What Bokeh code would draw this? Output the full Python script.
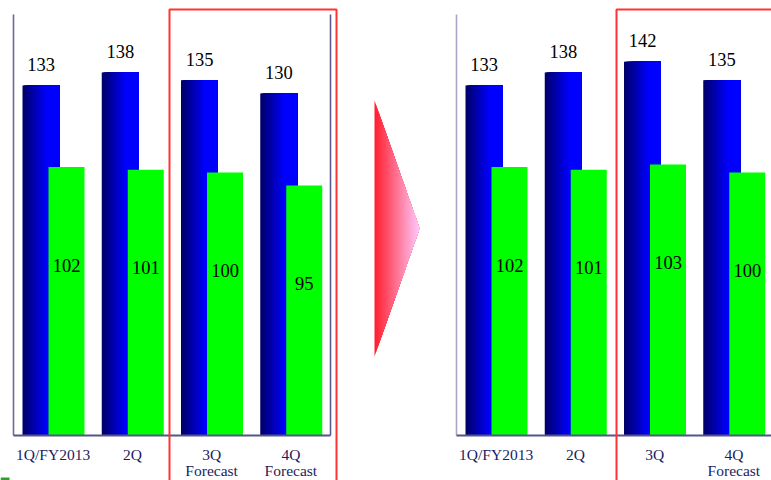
import numpy as np
from bokeh.plotting import figure
from bokeh.models import Range1d
from bokeh.core.properties import value
from bokeh.embed import file_html
from bokeh.resources import INLINE

# Quarterly figures: previous outlook (left) and revised outlook (right)
periods_before = ["1Q/FY2013", "2Q", "3Q\nForecast", "4Q\nForecast"]
periods_after = ["1Q/FY2013", "2Q", "3Q", "4Q\nForecast"]
sales_before = [133, 138, 135, 130]
profit_before = [102, 101, 100, 95]
sales_after = [133, 138, 142, 135]
profit_after = [102, 101, 103, 100]

W, H = 771, 480
SLOT_PX = 79.25          # pixel width of one category slot
Y_PX = 421 / 160         # pixels per value unit
LEFT_ORIGIN_PX = 13      # left edge of the first panel
RIGHT_ORIGIN_PX = 456    # left edge of the second panel
BASE_PX = 435            # baseline position from the top
AXIS_TOP = 160

SERIF = value("Liberation Serif")
LABEL_COLOR = "#1c1c5e"


def sx(px):
    """screen x (pixels) -> data x"""
    return (px - LEFT_ORIGIN_PX) / SLOT_PX


def sy(py):
    """screen y (pixels from top) -> data y"""
    return (BASE_PX - py) / Y_PX


p = figure(width=W, height=H, output_backend="svg", toolbar_location=None,
           x_range=Range1d(sx(0), sx(W)), y_range=Range1d(sy(H), sy(0)),
           x_axis_location=None, y_axis_location=None, min_border=0)
p.grid.visible = False
p.outline_line_color = None
p.background_fill_color = "white"
p.border_fill_color = "white"

BLUE_OFF, BLUE_W = 9 / SLOT_PX, 37 / SLOT_PX
GREEN_OFF, GREEN_W = 35 / SLOT_PX, 36 / SLOT_PX
N_STRIPS = 24


def draw_panel(x0, cats, sales, profit, y_axis_color, right_line):
    n = len(cats)
    # blue bars with a dark-to-bright horizontal gradient
    left, right, top, colors = [], [], [], []
    for i, v in enumerate(sales):
        bl = x0 + i + BLUE_OFF
        br = bl + BLUE_W
        for k in range(N_STRIPS):
            t = k / (N_STRIPS - 1)
            xl = bl + t * 0.65 * BLUE_W
            b = int(round(105 + (255 - 105) * t))
            left.append(xl)
            right.append(br)
            top.append(v)
            colors.append("#%02x%02x%02x" % (0, 0, b))
    p.quad(left=left, right=right, top=top, bottom=0, fill_color=colors, line_color=None)

    # green bars
    gl = [x0 + i + GREEN_OFF for i in range(n)]
    gr = [g + GREEN_W for g in gl]
    p.quad(left=gl, right=gr, top=profit, bottom=0, fill_color="#00ff00", line_color=None)

    # axis lines
    p.segment(x0=[x0], y0=[0], x1=[x0], y1=[AXIS_TOP], line_color=y_axis_color, line_width=1.6)
    if right_line:
        p.segment(x0=[x0 + n], y0=[0], x1=[x0 + n], y1=[AXIS_TOP], line_color="#5c5c8e", line_width=1.6)
    p.segment(x0=[x0], y0=[0], x1=[x0 + n], y1=[0], line_color="#55558a", line_width=2)

    # value labels
    p.text(x=[x0 + i + BLUE_OFF + BLUE_W / 2 for i in range(n)],
           y=[v + 21 / Y_PX for v in sales], text=[str(v) for v in sales],
           text_font=SERIF, text_font_size="18.5px", text_color="black",
           text_align="center", text_baseline="middle")
    p.text(x=[x0 + i + GREEN_OFF + GREEN_W / 2 for i in range(n)],
           y=[v - 98 / Y_PX for v in profit], text=[str(v) for v in profit],
           text_font=SERIF, text_font_size="18.5px", text_color="black",
           text_align="center", text_baseline="middle")

    # category labels (first line, then any second line)
    first = [c.split("\n")[0] for c in cats]
    p.text(x=[x0 + i + 0.5 for i in range(n)], y=[sy(454)] * n, text=first,
           text_font=SERIF, text_font_size="15.5px", text_color=LABEL_COLOR,
           text_align="center", text_baseline="middle")
    xs2, t2 = [], []
    for i, c in enumerate(cats):
        parts = c.split("\n")
        if len(parts) > 1:
            xs2.append(x0 + i + 0.5)
            t2.append(parts[1])
    if t2:
        p.text(x=xs2, y=[sy(470)] * len(t2), text=t2,
               text_font=SERIF, text_font_size="15.5px", text_color=LABEL_COLOR,
               text_align="center", text_baseline="middle")


x_left = 0.0
x_right = (RIGHT_ORIGIN_PX - LEFT_ORIGIN_PX) / SLOT_PX

draw_panel(x_left, periods_before, sales_before, profit_before, "#6a6a9c", True)
draw_panel(x_right, periods_after, sales_after, profit_after, "#a6a6c8", False)

# red frames around the forecast quarters
p.multi_line(xs=[[sx(169), sx(169), sx(336), sx(336)],
                 [sx(616), sx(616), sx(W + 20), sx(W + 20)]],
             ys=[[sy(H + 20), sy(9), sy(9), sy(H + 20)],
                 [sy(H + 20), sy(9), sy(9), sy(H + 20)]],
             line_color="#ff3333", line_width=2)

# gradient arrow between the panels
ax0, ax1 = 374, 419
ay_top, ay_bot, ay_tip = 100, 356, 228
xs, ys, cols = [], [], []
n_arrow = 30
for k in range(n_arrow):
    t = k / n_arrow
    px = ax0 + t * (ax1 - ax0)
    top_py = ay_top + t * (ay_tip - ay_top)
    bot_py = ay_bot + t * (ay_tip - ay_bot)
    xs.append([sx(px), sx(ax1), sx(px)])
    ys.append([sy(top_py), sy(ay_tip), sy(bot_py)])
    r, g, b = 255, int(round(32 + (204 - 32) * t)), int(round(48 + (255 - 48) * t))
    cols.append("#%02x%02x%02x" % (r, g, b))
p.patches(xs=xs, ys=ys, fill_color=cols, line_color=None)

# small green marker in the lower-left corner
p.quad(left=[sx(0)], right=[sx(9)], top=[sy(477)], bottom=[sy(H + 2)],
       fill_color="#2ea02e", line_color=None)

open("out.html", "w").write(file_html(p, INLINE))
